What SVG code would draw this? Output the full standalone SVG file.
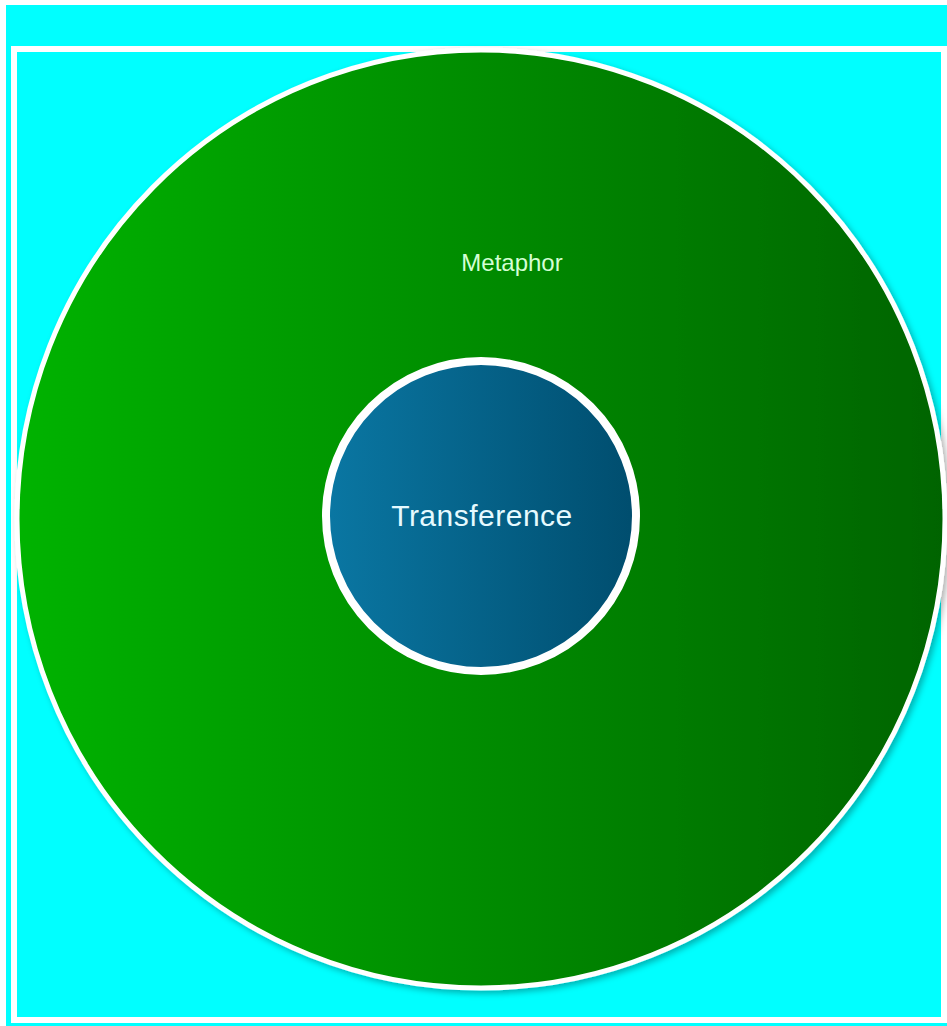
<svg xmlns="http://www.w3.org/2000/svg" width="947" height="1026" viewBox="0 0 947 1026">
<defs>
<linearGradient id="gGreen" x1="0" y1="0" x2="1" y2="0">
<stop offset="0" stop-color="#00b300"/>
<stop offset="1" stop-color="#006400"/>
</linearGradient>
<linearGradient id="gBlue" x1="0" y1="0" x2="1" y2="0">
<stop offset="0" stop-color="#0a77a3"/>
<stop offset="1" stop-color="#004d6e"/>
</linearGradient>
<filter id="shadow" x="-10%" y="-10%" width="120%" height="120%">
<feDropShadow dx="3" dy="3" stdDeviation="3" flood-color="#000" flood-opacity="0.3"/>
</filter>
<style>
.lbl{font-family:"Liberation Sans",Arial,sans-serif;text-anchor:middle}
</style>
</defs>
<rect x="0" y="0" width="947" height="1026" fill="#ffffff"/>
<rect x="6" y="5" width="941" height="1021" fill="#00ffff"/>
<rect x="14" y="49" width="930" height="971" fill="none" stroke="#ffffff" stroke-width="6"/>
<g id="metaphor">
<ellipse cx="481" cy="519" rx="464" ry="469" fill="url(#gGreen)" stroke="#ffffff" stroke-width="5" filter="url(#shadow)"/>
<text class="lbl" x="512" y="271" font-size="24" fill="#d4ffd4">Metaphor</text>
</g>
<g id="transference">
<circle cx="481" cy="516" r="155" fill="url(#gBlue)" stroke="#ffffff" stroke-width="8"/>
<text class="lbl" x="482" y="526" font-size="30" letter-spacing="0.5" fill="#e6faff">Transference</text>
</g>
<g id="connectors"/>
</svg>
